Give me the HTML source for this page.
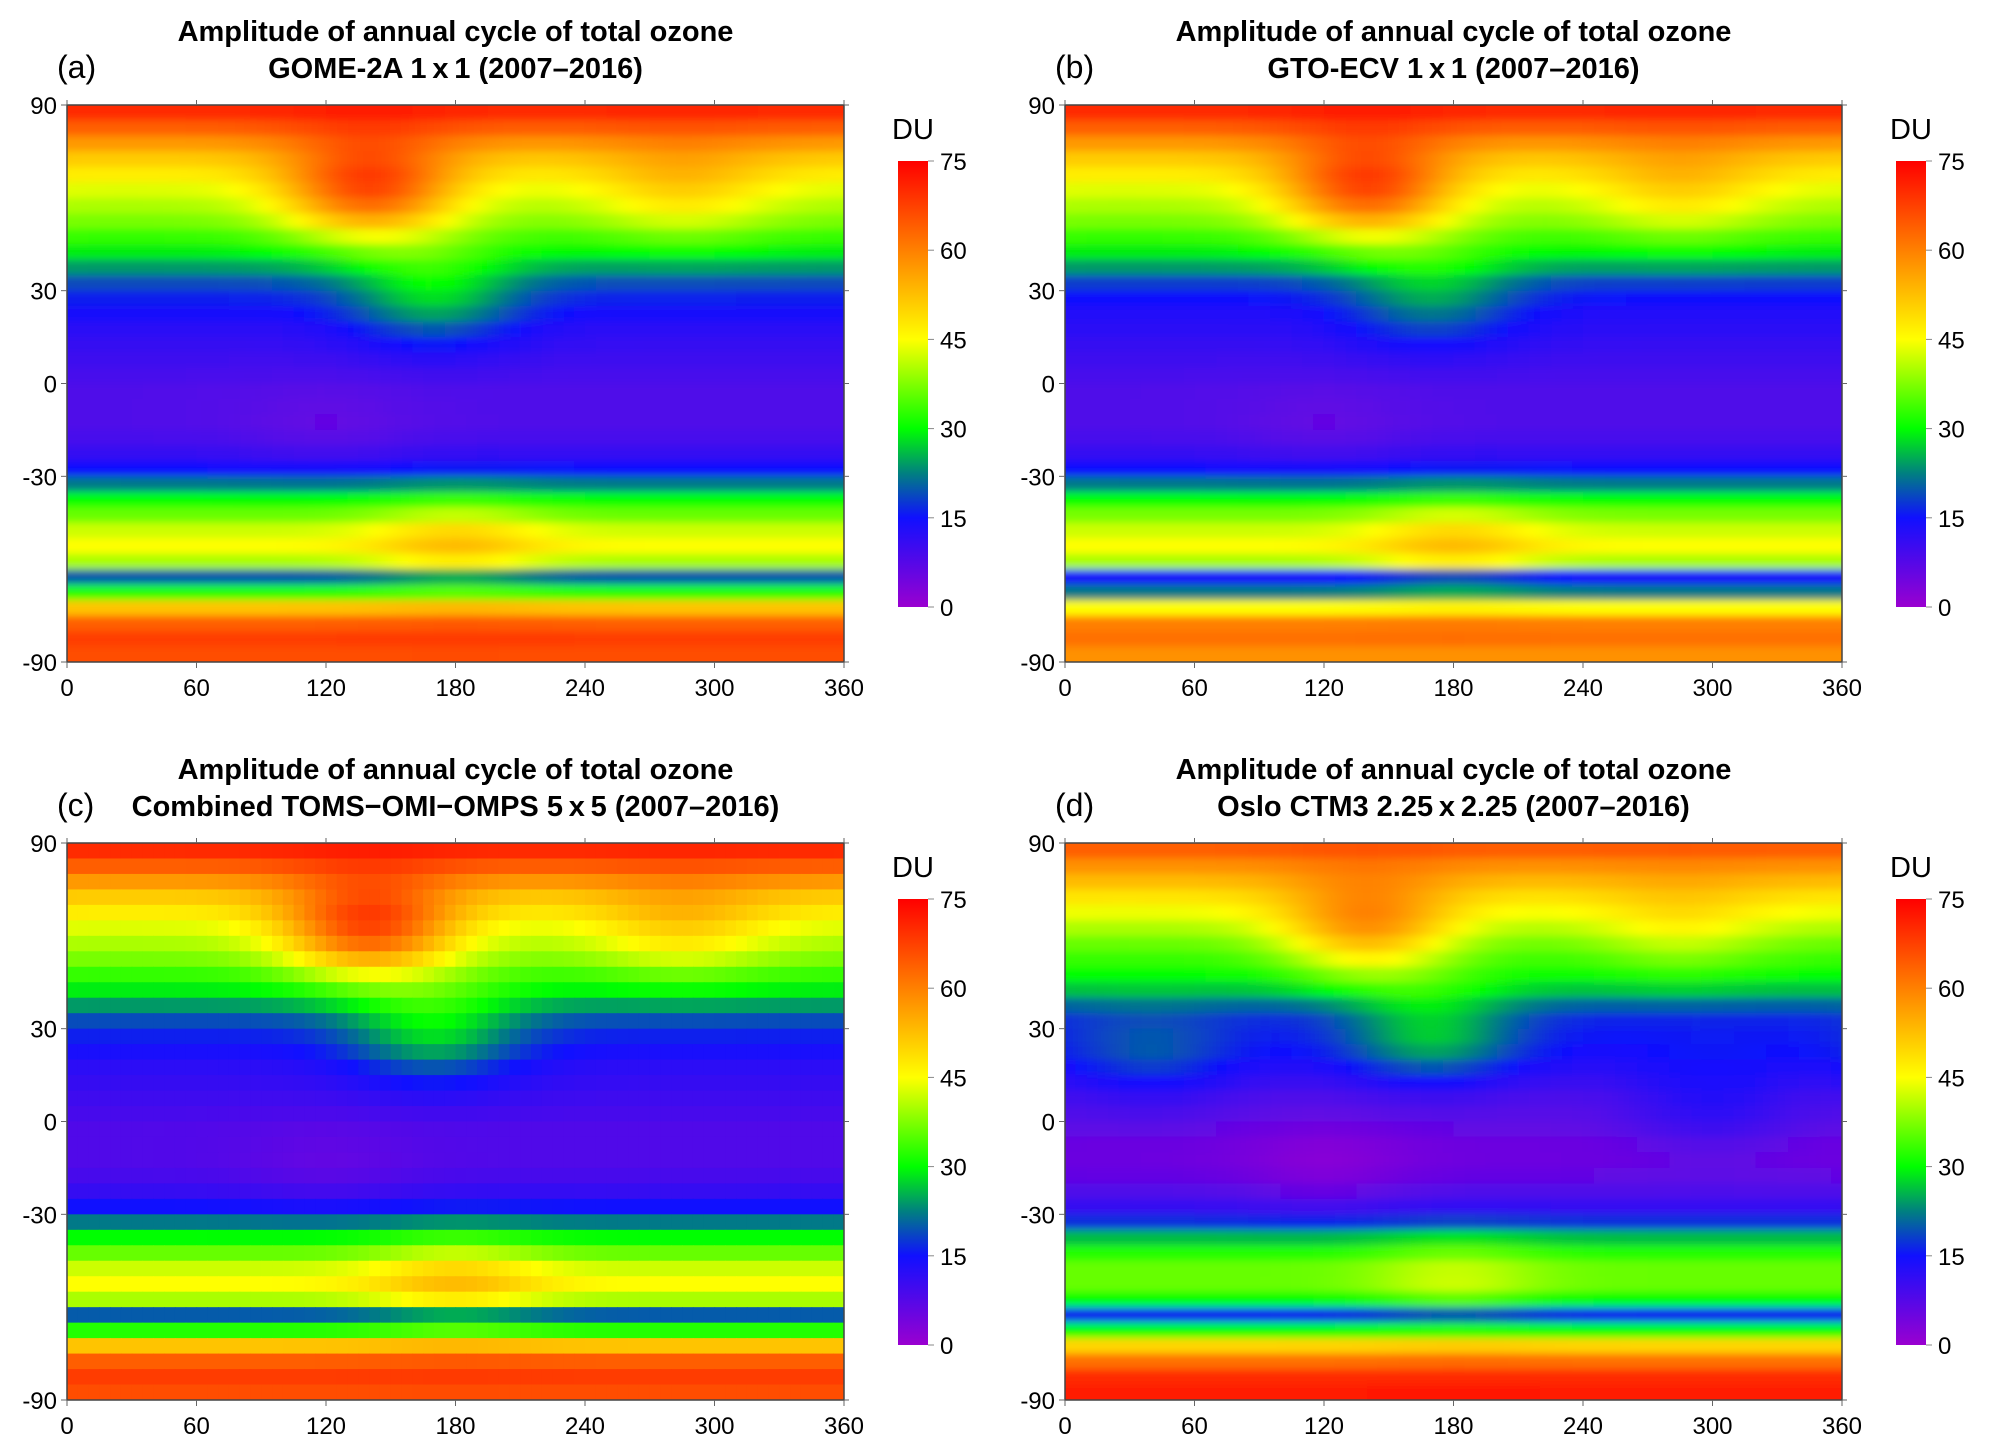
<!DOCTYPE html>
<html><head><meta charset="utf-8">
<style>
html,body{margin:0;padding:0;background:#fff;}
svg{display:block;font-family:"Liberation Sans",Arial,sans-serif;}
</style></head>
<body>
<svg id="fig" width="1990" height="1454" viewBox="0 0 1990 1454" xmlns="http://www.w3.org/2000/svg">
<defs>
<linearGradient id="cbar" x1="0" y1="1" x2="0" y2="0">
<stop offset="0" stop-color="#9a00d0"/>
<stop offset="0.2" stop-color="#1010ff"/>
<stop offset="0.3" stop-color="#008080"/>
<stop offset="0.4" stop-color="#00ff00"/>
<stop offset="0.6" stop-color="#ffff00"/>
<stop offset="0.8" stop-color="#ff8000"/>
<stop offset="1" stop-color="#ff0000"/>
</linearGradient>
<filter id="blur" x="-5%" y="-5%" width="110%" height="110%"><feGaussianBlur stdDeviation="7 4"/></filter>
</defs>
</svg>
<script>
// latitude band centres (5 degree bands, north to south)
const latBands = [87.5,82.5,77.5,72.5,67.5,62.5,57.5,52.5,47.5,42.5,37.5,32.5,27.5,22.5,17.5,12.5,7.5,2.5,-2.5,-7.5,-12.5,-17.5,-22.5,-27.5,-32.5,-37.5,-42.5,-47.5,-52.5,-57.5,-62.5,-67.5,-72.5,-77.5,-82.5,-87.5];
// zonal-mean amplitude (DU) per panel
const zonalA = [70,64,57,51,47,43,40,37,33,29,24,19,16,14,12,11,10,9,8,8,8,9,11,15,22,30,36,42,45,40,20,32,52,64,68,66];
const zonalB = [70,64,57,51,47,43,40,37,33,29,24,18,15,13,12,11,10,9,8,8,8,9,11,15,22,30,37,42,45,40,14,22,45,60,62,58];
const zonalC = [70,64,57,51,47,43,40,37,33,29,24,19,16,14,12,11,10,9,8,8,8,9,11,15,22,30,36,42,45,40,20,32,52,64,68,66];
const zonalD = [64,58,53,48,44,40,36,33,30,26,20,16,15,14,12,10,8,7,6,5,5,6,8,11,17,26,32,36,36,30,16,30,50,62,70,72];
// regional anomalies: centre lon, centre lat, amplitude (DU)
const anomLon = [140, 170, 285, 180, 40, 300, 120];
const anomLat = [62, 28, 62, -52, 20, 5, -15];
const anomAmpA = [24, 12, 8, 8, 0, 0, -2];
const anomAmpB = [24, 10, 8, 8, 0, 0, -2];
const anomAmpC = [24, 12, 8, 8, 0, 0, -2];
const anomAmpD = [18, 12, 6, 6, 6, 5, -3];
const xTicks = [0,60,120,180,240,300,360];
const yTicks = [90,30,0,-30,-90];
const cbarTicks = [0,15,30,45,60,75];

const NS='http://www.w3.org/2000/svg';
const svg=document.getElementById('fig');
function mk(tag,attrs,parent){const e=document.createElementNS(NS,tag);for(const k in attrs)e.setAttribute(k,attrs[k]);(parent||svg).appendChild(e);return e;}

const stops=[[0,[154,0,208]],[15,[16,16,255]],[22.5,[0,128,128]],[30,[0,255,0]],[45,[255,255,0]],[60,[255,128,0]],[75,[255,0,0]]];
function color(v){v=Math.max(0,Math.min(75,v));for(let i=1;i<stops.length;i++){if(v<=stops[i][0]){const a=stops[i-1],b=stops[i];const t=(v-a[0])/(b[0]-a[0]);const c=a[1].map((x,j)=>Math.round(x+(b[1][j]-x)*t));return 'rgb('+c.join(',')+')';}}return 'rgb(255,0,0)';}

const panels=[
 {id:'a',label:'(a)',sub:'GOME-2A 1\u2009x\u20091 (2007\u20132016)',x:67,y:105,zonal:zonalA,amp:anomAmpA,blur:true},
 {id:'b',label:'(b)',sub:'GTO-ECV 1\u2009x\u20091 (2007\u20132016)',x:1065,y:105,zonal:zonalB,amp:anomAmpB,blur:true},
 {id:'c',label:'(c)',sub:'Combined TOMS\u2212OMI\u2212OMPS 5\u2009x\u20095 (2007\u20132016)',x:67,y:843,zonal:zonalC,amp:anomAmpC,blur:false},
 {id:'d',label:'(d)',sub:'Oslo CTM3 2.25\u2009x\u20092.25 (2007\u20132016)',x:1065,y:843,zonal:zonalD,amp:anomAmpD,blur:true}
];
const W=777,H=557;
panels.forEach(p=>{
 const g=mk('g',{});
 
 
 const xs=lon=>p.x+lon/360*W;
 const ys=lat=>p.y+(90-lat)/180*H;
 const cx=p.x+W/2;
 const t1=mk('text',{x:cx,y:p.y-64,'text-anchor':'middle','font-size':29,'font-weight':'bold'},g);t1.textContent='Amplitude of annual cycle of total ozone';
 
 
 const t2=mk('text',{x:cx,y:p.y-27,'text-anchor':'middle','font-size':29,'font-weight':'bold'},g);t2.textContent=p.sub;
 
 
 const lb=mk('text',{x:p.x-10,y:p.y-27,'font-size':32},g);lb.textContent=p.label;
 
 
 const clipId='clip'+p.id;
 const cp=mk('clipPath',{id:clipId},g);mk('rect',{x:p.x,y:p.y,width:W,height:H},cp);
 const outer=mk('g',{'clip-path':'url(#'+clipId+')'},g);
 const hm=mk('g',p.blur?{filter:'url(#blur)'}:{},outer);
 
 
 const last=latBands.length-1;
 for(let li=0;li<latBands.length;li++){
  const lat=latBands[li];
  let yTop=ys(lat+2.5), hh=H/36+0.6;
  if(li===0){yTop-=20;hh+=20;}
  if(li===last){hh+=20;}
  for(let lon=-12.5;lon<375;lon+=5){
   let v=p.zonal[li];
   for(let k=0;k<anomLon.length;k++){
    let dl=Math.abs(((lon%360)+360)%360-anomLon[k]);if(dl>180)dl=360-dl;
    v+=p.amp[k]*Math.exp(-(dl*dl)/(2*28*28)-((lat-anomLat[k])**2)/(2*11*11));
   }
   const r=mk('rect',{x:xs(lon-2.5),y:yTop,width:W/72+0.6,height:hh,fill:color(v)},hm);
   
   
  }
 }
 const fr=mk('rect',{x:p.x,y:p.y,width:W,height:H,fill:'none',stroke:'#444','stroke-width':1.5},g);
 
 
 xTicks.forEach(t=>{
  mk('line',{x1:xs(t),x2:xs(t),y1:p.y+H,y2:p.y+H+6,stroke:'#666'},g);
  mk('line',{x1:xs(t),x2:xs(t),y1:p.y,y2:p.y-5,stroke:'#666'},g);
  const tx=mk('text',{x:xs(t),y:p.y+H+34,'text-anchor':'middle','font-size':24},g);tx.textContent=t;
  
  
 });
 yTicks.forEach(t=>{
  mk('line',{x1:p.x-6,x2:p.x,y1:ys(t),y2:ys(t),stroke:'#666'},g);
  mk('line',{x1:p.x+W,x2:p.x+W+5,y1:ys(t),y2:ys(t),stroke:'#666'},g);
  const ty=mk('text',{x:p.x-10,y:ys(t)+9,'text-anchor':'end','font-size':24},g);ty.textContent=t;
  
  
 });
 const bx=p.x+831,by=p.y+56,bw=30,bh=446;
 const cb=mk('rect',{x:bx,y:by,width:bw,height:bh,fill:'url(#cbar)'},g);
 
 
 const du=mk('text',{x:bx-6,y:by-22,'font-size':29},g);du.textContent='DU';
 
 
 cbarTicks.forEach(t=>{
  const yy=by+bh-t/75*bh;
  mk('line',{x1:bx+bw,x2:bx+bw+6,y1:yy,y2:yy,stroke:'#888'},g);
  const ct=mk('text',{x:bx+bw+12,y:yy+9,'font-size':24},g);ct.textContent=t;
  
  
 });
});
</script>
</body></html>
